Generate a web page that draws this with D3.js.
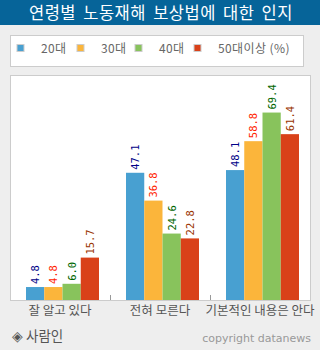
<!DOCTYPE html>
<html><head><meta charset="utf-8">
<script src="https://cdn.jsdelivr.net/npm/d3@7"></script>
<style>body{margin:0;background:#eeeeee;}svg{display:block;}</style>
</head><body>
<script>
const title = "연령별 노동재해 보상법에 대한 인지";
const categories = ["잘 알고 있다", "전혀 모른다", "기본적인 내용은 안다"];
const seriesNames = ["20대", "30대", "40대", "50대이상 (%)"];
const s20 = [4.8, 47.1, 48.1];
const s30 = [4.8, 36.8, 58.8];
const s40 = [6.0, 24.6, 69.4];
const s50 = [15.7, 22.8, 61.4];
const series = [s20, s30, s40, s50];
const barColors = ["#48a0d1", "#fbb53b", "#88c35c", "#d94119"];
const labelColors = ["#000088", "#ff2200", "#006600", "#993300"];

const W = 320, H = 350;
const svg = d3.select("body").append("svg").attr("width", W).attr("height", H);
svg.append("rect").attr("width", W).attr("height", H).attr("fill", "#eeeeee");

// title bar
svg.append("rect").attr("x", 0).attr("y", 0).attr("width", W).attr("height", 25).attr("fill", "#066499");
svg.append("text").attr("x", 161).attr("y", 18.5).attr("text-anchor", "middle")
  .attr("fill", "#fff").attr("font-family", "Noto Sans CJK KR").attr("font-size", 16.5)
  .attr("letter-spacing", 0.5).attr("word-spacing", 3).text(title);

// legend
svg.append("rect").attr("x", 10.5).attr("y", 35.5).attr("width", 293).attr("height", 31)
  .attr("fill", "#fff").attr("stroke", "#cccccc");
const legX = [17, 77, 135, 194];
const legend = svg.append("g");
seriesNames.forEach((n, i) => {
  legend.append("rect").attr("x", legX[i]).attr("y", 44.5).attr("width", 7).attr("height", 7)
    .attr("fill", barColors[i]).attr("stroke", "#cccccc").attr("stroke-width", 1);
  legend.append("text").attr("x", legX[i] + 24).attr("y", 53).attr("fill", "#666")
    .attr("font-family", "Noto Sans CJK KR").attr("font-size", 12).attr("letter-spacing", 0.4).text(n);
});

// plot area
const px0 = 10, px1 = 310, py0 = 75, py1 = 300;
svg.append("rect").attr("x", px0 + 0.5).attr("y", py0 + 0.5).attr("width", px1 - px0).attr("height", py1 - py0)
  .attr("fill", "#fff").attr("stroke", "#cccccc");

const x = d3.scaleBand().domain(categories).range([px0, px1]).paddingInner(0).paddingOuter(0);
const xs = d3.scaleBand().domain(d3.range(4)).range([16, 89]).padding(0);
const y = d3.scaleLinear().domain([0, 83.3]).range([py1, py0]);

const g = svg.append("g");
categories.forEach((c, ci) => {
  series.forEach((s, si) => {
    const bx = x(c) + xs(si);
    g.append("rect").attr("x", bx).attr("y", y(s[ci])).attr("width", xs.bandwidth())
      .attr("height", y(0) - y(s[ci])).attr("fill", barColors[si]);
    const cx = bx + xs.bandwidth() / 2 + 4;
    const ty = y(s[ci]) - 3;
    g.append("text").attr("transform", `translate(${cx},${ty}) rotate(-90)`)
      .attr("fill", labelColors[si]).attr("font-family", "DejaVu Sans Mono")
      .attr("font-size", 10.5).text(s[ci].toFixed(1));
  });
});

// x axis
const xAxis = d3.axisBottom(x).tickSize(0).tickPadding(6);
const ax = svg.append("g").attr("transform", `translate(0,${py1 + 0.5})`).call(xAxis);
ax.select(".domain").remove();
ax.selectAll("text").attr("fill", "#555").attr("font-family", "Noto Sans CJK KR").attr("font-size", 12.5);
// separator ticks
[1, 2].forEach(i => {
  const tx = x(categories[i]) + 0.5;
  svg.append("line").attr("x1", tx).attr("x2", tx).attr("y1", py1).attr("y2", py1 - 5)
    .attr("stroke", "#999");
});

// footer
svg.append("text").attr("x", 12).attr("y", 341).attr("fill", "#555")
  .attr("font-family", "Noto Sans CJK KR").attr("font-size", 13.5).text("◈ 사람인");
svg.append("text").attr("x", 311).attr("y", 342).attr("text-anchor", "end").attr("fill", "#999")
  .attr("font-family", "DejaVu Sans").attr("font-size", 11).text("copyright datanews");
</script>
</body></html>
